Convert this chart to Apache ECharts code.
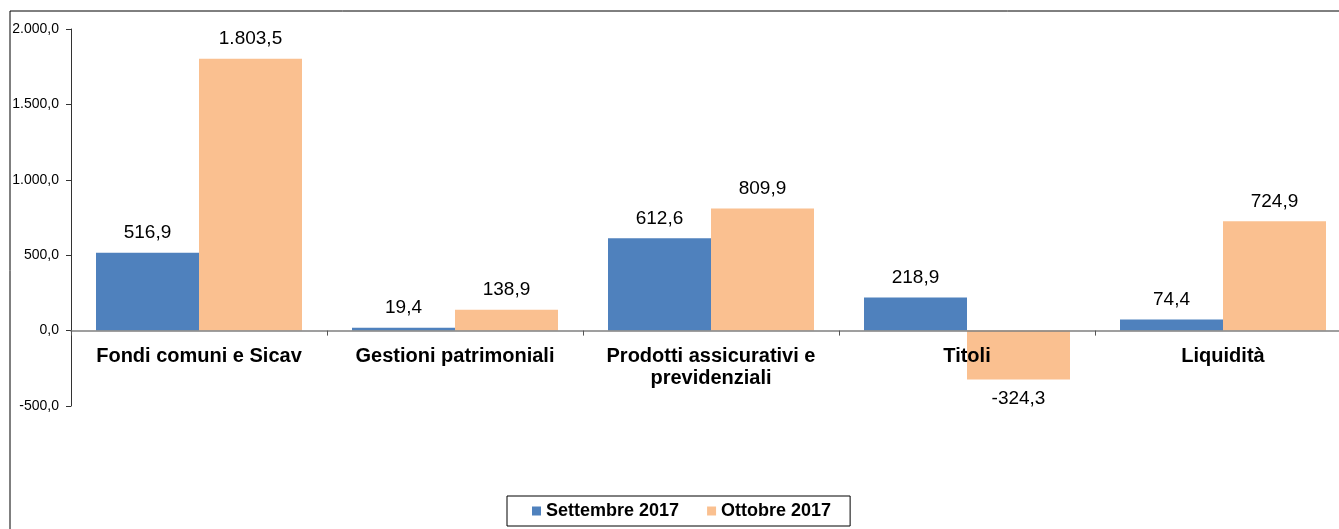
<!DOCTYPE html>
<html>
<head>
<meta charset="utf-8">
<script src="https://cdn.jsdelivr.net/npm/echarts@6/dist/echarts.min.js"></script>
<style>
html,body{margin:0;padding:0;background:#fff;}
#main{width:1339px;height:529px;}
</style>
</head>
<body>
<div id="main"></div>
<script>
var categories = ['Fondi comuni e Sicav', 'Gestioni patrimoniali', 'Prodotti assicurativi e\nprevidenziali', 'Titoli', 'Liquidità'];
var settembre = [516.9, 19.4, 612.6, 218.9, 74.4];
var ottobre = [1803.5, 138.9, 809.9, -324.3, 724.9];
var seriesNames = ['Settembre 2017', 'Ottobre 2017'];
var yMin = -500, yMax = 2000, yStep = 500;

// formato italiano: 1.803,5
function fmt(v){
    var s = Math.abs(v).toFixed(1).split('.');
    var intPart = s[0].replace(/\B(?=(\d{3})+(?!\d))/g, '.');
    return (v < 0 ? '-' : '') + intPart + ',' + s[1];
}

function toData(arr){
    return arr.map(function(v){
        var item = {value: v};
        if(v < 0){
            item.label = {position: 'bottom'};
        }
        return item;
    });
}

var gridTop = 29, gridHeight = 377;
// sposta l'asse delle categorie sulla linea dello zero
var zeroOffset = -gridHeight * (0 - yMin) / (yMax - yMin);

var labelStyle = {
    show: true,
    position: 'top',
    distance: 10,
    color: '#000',
    fontFamily: 'Liberation Sans, Arial, sans-serif',
    fontSize: 19,
    formatter: function(p){ return fmt(p.value); }
};

var option = {
    animation: false,
    textStyle: {fontFamily: 'Liberation Sans, Arial, sans-serif'},
    graphic: [{
        type: 'rect',
        shape: {x: 10, y: 11, width: 1400, height: 600},
        style: {fill: 'none', stroke: '#000', lineWidth: 1}
    }],
    legend: {
        data: seriesNames,
        left: 507,
        top: 496,
        orient: 'horizontal',
        padding: [6, 19, 6, 25],
        borderColor: '#000',
        borderWidth: 1,
        itemWidth: 9,
        itemHeight: 9,
        itemGap: 28,
        icon: 'rect',
        textStyle: {
            fontFamily: 'Liberation Sans, Arial, sans-serif',
            fontSize: 18,
            fontWeight: 'bold',
            color: '#000'
        }
    },
    grid: {
        left: 71,
        top: gridTop,
        width: 1280,
        height: gridHeight,
        containLabel: false,
        outerBoundsMode: 'none'
    },
    xAxis: {
        type: 'category',
        data: categories,
        offset: zeroOffset,
        z: 10,
        axisLine: {onZero: false, lineStyle: {color: '#808080', width: 1.5}},
        axisTick: {show: true, inside: false, length: 5, lineStyle: {color: '#555'}},
        axisLabel: {
            color: '#000',
            fontSize: 20,
            fontWeight: 'bold',
            margin: 15,
            lineHeight: 22,
            interval: 0
        },
        splitLine: {show: false}
    },
    yAxis: {
        type: 'value',
        min: yMin,
        max: yMax,
        interval: yStep,
        axisLine: {show: true, lineStyle: {color: '#333'}},
        axisTick: {show: true, length: 5, lineStyle: {color: '#333'}},
        splitLine: {show: false},
        axisLabel: {
            color: '#000',
            fontSize: 14,
            margin: 12,
            formatter: function(v){ return fmt(v); }
        }
    },
    series: [
        {
            name: seriesNames[0],
            type: 'bar',
            data: toData(settembre),
            barWidth: 103,
            barGap: '0%',
            itemStyle: {color: '#4F81BD'},
            label: labelStyle
        },
        {
            name: seriesNames[1],
            type: 'bar',
            data: toData(ottobre),
            barWidth: 103,
            barGap: '0%',
            itemStyle: {color: '#FAC090'},
            label: labelStyle
        }
    ]
};

var myChart = echarts.init(document.getElementById('main'), null, {renderer: 'canvas'});
myChart.setOption(option);
</script>
</body>
</html>
